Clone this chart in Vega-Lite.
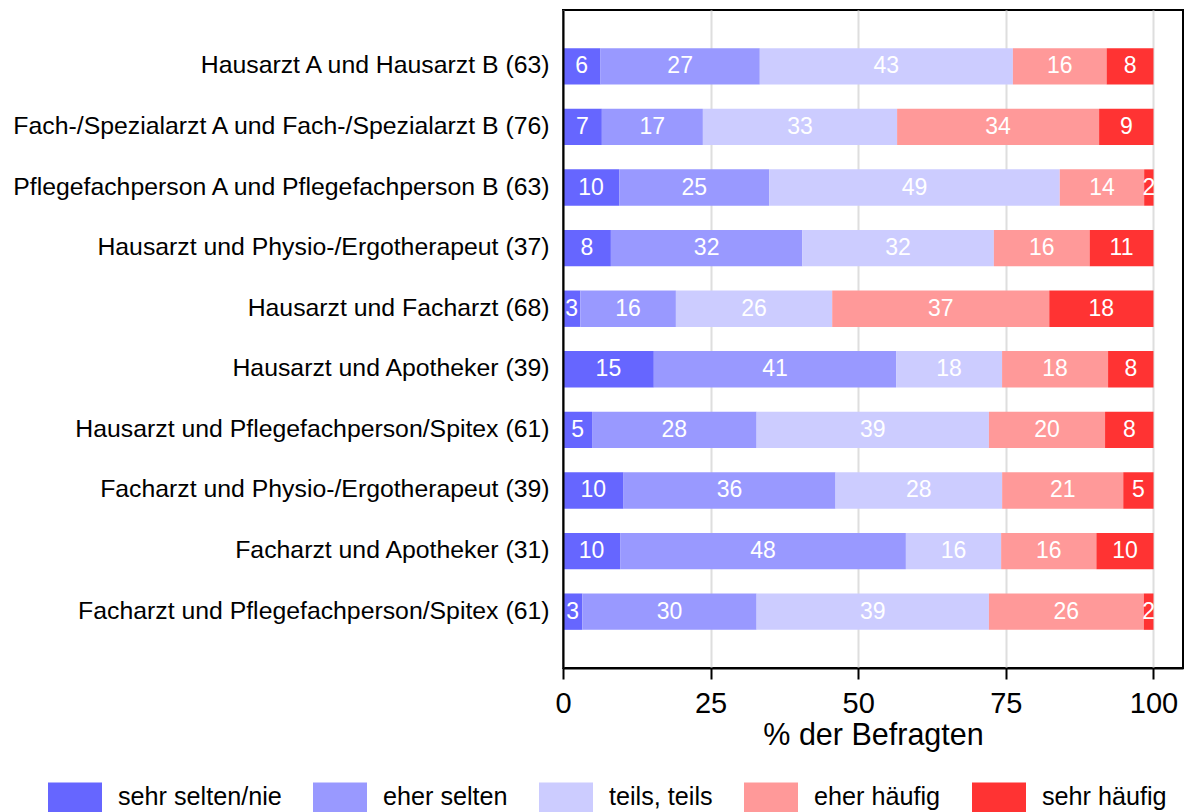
{
  "$schema": "https://vega.github.io/schema/vega-lite/v6.json",
  "width": 620,
  "height": 658,
  "autosize": {"type": "none"},
  "padding": {"left": 563, "top": 10, "right": 1, "bottom": 144},
  "background": "white",
  "config": {
    "font": "Liberation Sans",
    "view": {"stroke": "black", "strokeWidth": 2},
    "legend": {
      "symbolType": "M-1,-0.5556H1V0.5556H-1Z",
      "symbolSize": 2916,
      "symbolStrokeWidth": 0,
      "symbolOpacity": 1
    }
  },
  "data": {
    "values": [
      {"pair": "Hausarzt A und Hausarzt B (63)", "cat": "sehr selten/nie", "k": 1, "pct": 6.35},
      {"pair": "Hausarzt A und Hausarzt B (63)", "cat": "eher selten", "k": 2, "pct": 26.98},
      {"pair": "Hausarzt A und Hausarzt B (63)", "cat": "teils, teils", "k": 3, "pct": 42.86},
      {"pair": "Hausarzt A und Hausarzt B (63)", "cat": "eher häufig", "k": 4, "pct": 15.87},
      {"pair": "Hausarzt A und Hausarzt B (63)", "cat": "sehr häufig", "k": 5, "pct": 7.94},
      {"pair": "Fach-/Spezialarzt A und Fach-/Spezialarzt B (76)", "cat": "sehr selten/nie", "k": 1, "pct": 6.58},
      {"pair": "Fach-/Spezialarzt A und Fach-/Spezialarzt B (76)", "cat": "eher selten", "k": 2, "pct": 17.11},
      {"pair": "Fach-/Spezialarzt A und Fach-/Spezialarzt B (76)", "cat": "teils, teils", "k": 3, "pct": 32.89},
      {"pair": "Fach-/Spezialarzt A und Fach-/Spezialarzt B (76)", "cat": "eher häufig", "k": 4, "pct": 34.21},
      {"pair": "Fach-/Spezialarzt A und Fach-/Spezialarzt B (76)", "cat": "sehr häufig", "k": 5, "pct": 9.21},
      {"pair": "Pflegefachperson A und Pflegefachperson B (63)", "cat": "sehr selten/nie", "k": 1, "pct": 9.52},
      {"pair": "Pflegefachperson A und Pflegefachperson B (63)", "cat": "eher selten", "k": 2, "pct": 25.40},
      {"pair": "Pflegefachperson A und Pflegefachperson B (63)", "cat": "teils, teils", "k": 3, "pct": 49.21},
      {"pair": "Pflegefachperson A und Pflegefachperson B (63)", "cat": "eher häufig", "k": 4, "pct": 14.29},
      {"pair": "Pflegefachperson A und Pflegefachperson B (63)", "cat": "sehr häufig", "k": 5, "pct": 1.59},
      {"pair": "Hausarzt und Physio-/Ergotherapeut (37)", "cat": "sehr selten/nie", "k": 1, "pct": 8.11},
      {"pair": "Hausarzt und Physio-/Ergotherapeut (37)", "cat": "eher selten", "k": 2, "pct": 32.43},
      {"pair": "Hausarzt und Physio-/Ergotherapeut (37)", "cat": "teils, teils", "k": 3, "pct": 32.43},
      {"pair": "Hausarzt und Physio-/Ergotherapeut (37)", "cat": "eher häufig", "k": 4, "pct": 16.22},
      {"pair": "Hausarzt und Physio-/Ergotherapeut (37)", "cat": "sehr häufig", "k": 5, "pct": 10.81},
      {"pair": "Hausarzt und Facharzt (68)", "cat": "sehr selten/nie", "k": 1, "pct": 2.94},
      {"pair": "Hausarzt und Facharzt (68)", "cat": "eher selten", "k": 2, "pct": 16.18},
      {"pair": "Hausarzt und Facharzt (68)", "cat": "teils, teils", "k": 3, "pct": 26.47},
      {"pair": "Hausarzt und Facharzt (68)", "cat": "eher häufig", "k": 4, "pct": 36.76},
      {"pair": "Hausarzt und Facharzt (68)", "cat": "sehr häufig", "k": 5, "pct": 17.65},
      {"pair": "Hausarzt und Apotheker (39)", "cat": "sehr selten/nie", "k": 1, "pct": 15.38},
      {"pair": "Hausarzt und Apotheker (39)", "cat": "eher selten", "k": 2, "pct": 41.03},
      {"pair": "Hausarzt und Apotheker (39)", "cat": "teils, teils", "k": 3, "pct": 17.95},
      {"pair": "Hausarzt und Apotheker (39)", "cat": "eher häufig", "k": 4, "pct": 17.95},
      {"pair": "Hausarzt und Apotheker (39)", "cat": "sehr häufig", "k": 5, "pct": 7.69},
      {"pair": "Hausarzt und Pflegefachperson/Spitex (61)", "cat": "sehr selten/nie", "k": 1, "pct": 4.92},
      {"pair": "Hausarzt und Pflegefachperson/Spitex (61)", "cat": "eher selten", "k": 2, "pct": 27.87},
      {"pair": "Hausarzt und Pflegefachperson/Spitex (61)", "cat": "teils, teils", "k": 3, "pct": 39.34},
      {"pair": "Hausarzt und Pflegefachperson/Spitex (61)", "cat": "eher häufig", "k": 4, "pct": 19.67},
      {"pair": "Hausarzt und Pflegefachperson/Spitex (61)", "cat": "sehr häufig", "k": 5, "pct": 8.20},
      {"pair": "Facharzt und Physio-/Ergotherapeut (39)", "cat": "sehr selten/nie", "k": 1, "pct": 10.26},
      {"pair": "Facharzt und Physio-/Ergotherapeut (39)", "cat": "eher selten", "k": 2, "pct": 35.90},
      {"pair": "Facharzt und Physio-/Ergotherapeut (39)", "cat": "teils, teils", "k": 3, "pct": 28.21},
      {"pair": "Facharzt und Physio-/Ergotherapeut (39)", "cat": "eher häufig", "k": 4, "pct": 20.51},
      {"pair": "Facharzt und Physio-/Ergotherapeut (39)", "cat": "sehr häufig", "k": 5, "pct": 5.13},
      {"pair": "Facharzt und Apotheker (31)", "cat": "sehr selten/nie", "k": 1, "pct": 9.68},
      {"pair": "Facharzt und Apotheker (31)", "cat": "eher selten", "k": 2, "pct": 48.39},
      {"pair": "Facharzt und Apotheker (31)", "cat": "teils, teils", "k": 3, "pct": 16.13},
      {"pair": "Facharzt und Apotheker (31)", "cat": "eher häufig", "k": 4, "pct": 16.13},
      {"pair": "Facharzt und Apotheker (31)", "cat": "sehr häufig", "k": 5, "pct": 9.68},
      {"pair": "Facharzt und Pflegefachperson/Spitex (61)", "cat": "sehr selten/nie", "k": 1, "pct": 3.28},
      {"pair": "Facharzt und Pflegefachperson/Spitex (61)", "cat": "eher selten", "k": 2, "pct": 29.51},
      {"pair": "Facharzt und Pflegefachperson/Spitex (61)", "cat": "teils, teils", "k": 3, "pct": 39.34},
      {"pair": "Facharzt und Pflegefachperson/Spitex (61)", "cat": "eher häufig", "k": 4, "pct": 26.23},
      {"pair": "Facharzt und Pflegefachperson/Spitex (61)", "cat": "sehr häufig", "k": 5, "pct": 1.64}
    ]
  },
  "transform": [
    {"stack": "pct", "groupby": ["pair"], "sort": [{"field": "k", "order": "ascending"}], "as": ["x0", "x1"]},
    {"calculate": "(datum.x0 + datum.x1) / 2", "as": "xm"}
  ],
  "encoding": {
    "y": {
      "field": "pair",
      "type": "nominal",
      "sort": null,
      "scale": {"paddingInner": 0.4, "paddingOuter": 0.63},
      "axis": {
        "title": null,
        "domain": true,
        "domainColor": "black",
        "domainWidth": 2,
        "zindex": 1,
        "ticks": false,
        "labelFontSize": 24.8,
        "labelColor": "black",
        "labelPadding": 14,
        "labelLimit": 700
      }
    }
  },
  "layer": [
    {
      "mark": {"type": "bar"},
      "encoding": {
        "x": {
          "field": "x0",
          "type": "quantitative",
          "scale": {"domain": [0, 105], "nice": false, "zero": true},
          "axis": {
            "values": [0, 25, 50, 75, 100],
            "title": "% der Befragten",
            "titleFontSize": 30.5,
            "titleFontWeight": "normal",
            "titleColor": "black",
            "titlePadding": 2,
            "labelFontSize": 29,
            "labelColor": "black",
            "labelPadding": 10,
            "labelFlush": false,
            "grid": true,
            "gridColor": "#DEDEDE",
            "gridWidth": 2,
            "domain": true,
            "domainColor": "black",
            "domainWidth": 2,
            "tickColor": "black",
            "tickWidth": 2,
            "tickSize": 11
          }
        },
        "x2": {"field": "x1"},
        "color": {
          "field": "cat",
          "type": "nominal",
          "scale": {
            "domain": ["sehr selten/nie", "eher selten", "teils, teils", "eher häufig", "sehr häufig"],
            "range": ["#6666FF", "#9999FF", "#CCCCFF", "#FF9999", "#FF3333"]
          },
          "legend": {
            "title": null,
            "orient": "none",
            "direction": "horizontal",
            "columns": 5,
            "legendX": -515,
            "legendY": 760,
            "labelFontSize": 25.2,
            "labelColor": "black",
            "labelOffset": 16,
            "columnPadding": 31,
            "labelLimit": 300
          }
        }
      }
    },
    {
      "mark": {"type": "text", "color": "white", "fontSize": 23, "baseline": "middle", "align": "center"},
      "encoding": {
        "x": {"field": "xm", "type": "quantitative"},
        "text": {"field": "pct", "type": "quantitative", "format": ".0f"}
      }
    }
  ]
}
